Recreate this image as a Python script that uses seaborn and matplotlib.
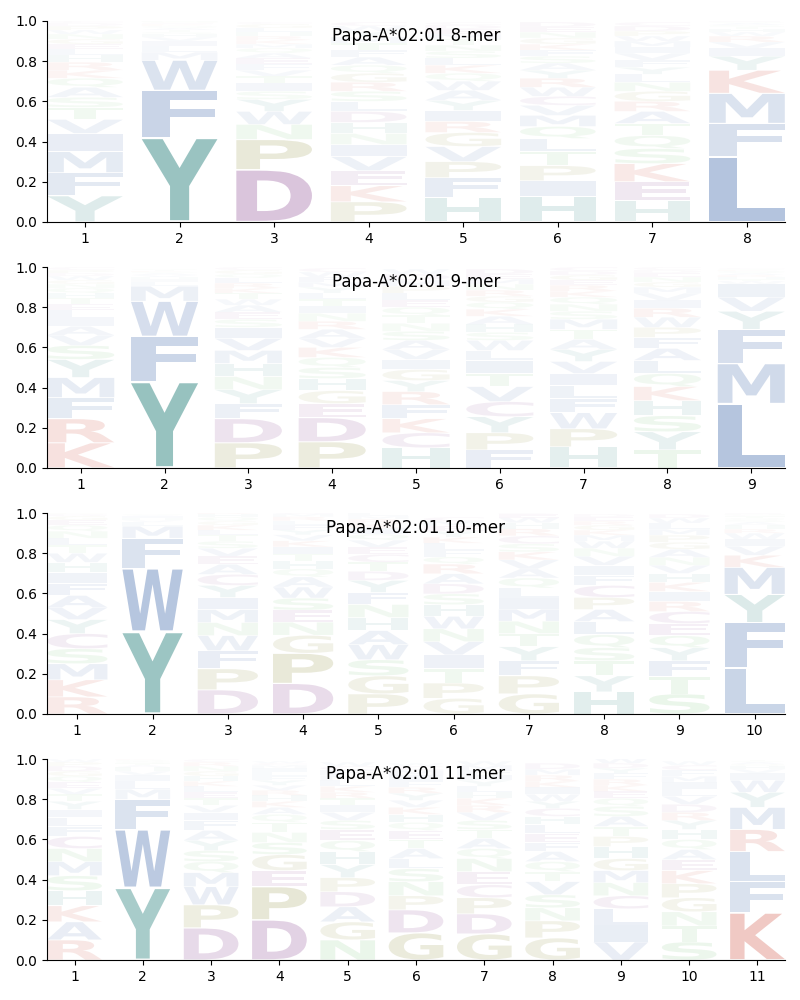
import pandas as pd
import seaborn as sns
import matplotlib.pyplot as plt
from matplotlib.textpath import TextPath
from matplotlib.patches import PathPatch
from matplotlib.font_manager import FontProperties
from matplotlib.transforms import Affine2D

allele = "Papa-A*02:01"

# letter heights per position (probability)
mer8 = [
    {"Y": .13, "F": .115, "M": .105, "I": .09, "V": .07, "T": .06, "S": .05, "A": .05, "Q": .045, "K": .04,
     "R": .04, "H": .035, "L": .03, "E": .025, "G": .025, "N": .025, "W": .02, "P": .02, "D": .015, "C": .01},
    {"Y": .42, "F": .235, "W": .15, "M": .04, "L": .03, "I": .025, "V": .02, "H": .015, "Q": .01, "A": .01,
     "T": .01, "S": .01, "K": .005, "R": .005, "E": .005, "N": .005, "G": .005, "P": .005},
    {"D": .26, "P": .15, "N": .075, "W": .065, "Y": .06, "S": .04, "I": .04, "T": .035, "F": .03, "E": .03,
     "V": .03, "A": .025, "Q": .025, "K": .02, "L": .02, "R": .02, "G": .02, "H": .02, "M": .02, "C": .01},
    {"P": .10, "K": .08, "E": .075, "V": .07, "I": .06, "D": .055, "H": .055, "N": .055, "L": .05, "S": .05,
     "G": .045, "R": .045, "A": .04, "Q": .04, "T": .035, "F": .035, "M": .03, "Y": .03, "W": .025, "C": .02},
    {"H": .12, "F": .10, "P": .08, "V": .075, "G": .07, "I": .055, "R": .055, "Y": .05, "A": .05, "W": .045,
     "K": .04, "Q": .04, "S": .035, "L": .035, "N": .03, "T": .03, "M": .025, "E": .025, "D": .02, "C": .015},
    {"H": .125, "I": .08, "P": .075, "T": .07, "L": .065, "Q": .06, "M": .055, "V": .05, "R": .045, "C": .045,
     "W": .045, "Y": .04, "S": .035, "A": .035, "G": .03, "F": .03, "N": .03, "K": .03, "E": .025, "D": .025},
    {"H": .105, "E": .095, "K": .09, "S": .075, "Q": .065, "T": .06, "A": .06, "R": .05, "G": .05, "N": .045,
     "L": .04, "F": .035, "Y": .035, "V": .035, "I": .03, "M": .03, "W": .025, "P": .025, "D": .025, "C": .02},
    {"L": .325, "F": .165, "M": .15, "K": .115, "Y": .07, "I": .04, "R": .03, "V": .03, "W": .02, "H": .015,
     "T": .01, "S": .01, "A": .01, "Q": .005, "E": .005},
]

mer9 = [
    {"K": .125, "R": .12, "F": .105, "M": .10, "Y": .09, "S": .07, "V": .05, "A": .045, "I": .04, "L": .04,
     "E": .03, "T": .03, "H": .025, "Q": .025, "N": .02, "G": .02, "W": .02, "D": .015, "P": .015, "C": .015},
    {"Y": .43, "F": .225, "W": .175, "M": .075, "L": .02, "I": .015, "V": .01, "H": .01, "A": .01, "Q": .005,
     "T": .005, "S": .005, "K": .005},
    {"P": .125, "D": .12, "F": .075, "Y": .07, "M": .065, "N": .065, "H": .065, "V": .06, "I": .055, "S": .04,
     "E": .035, "A": .035, "W": .03, "T": .03, "L": .025, "K": .025, "R": .025, "Q": .02, "G": .02, "C": .015},
    {"P": .13, "D": .12, "E": .07, "G": .065, "H": .06, "S": .055, "Q": .05, "K": .05, "A": .045, "V": .045,
     "N": .04, "R": .04, "I": .035, "T": .035, "L": .03, "Y": .03, "F": .025, "W": .025, "M": .025, "C": .02},
    {"H": .10, "C": .075, "F": .07, "K": .07, "R": .065, "G": .055, "Y": .055, "I": .05, "V": .05, "A": .045,
     "S": .045, "T": .04, "N": .04, "Q": .04, "E": .035, "L": .035, "P": .035, "D": .03, "M": .03, "W": .025},
    {"F": .09, "P": .085, "Y": .08, "V": .075, "C": .075, "T": .065, "I": .065, "L": .05, "W": .05, "S": .04,
     "H": .04, "A": .04, "Q": .035, "K": .035, "R": .03, "N": .03, "G": .03, "E": .025, "M": .025, "D": .025},
    {"H": .105, "P": .09, "W": .08, "F": .07, "L": .065, "Y": .06, "I": .06, "V": .06, "A": .05, "T": .05,
     "M": .05, "S": .04, "Q": .035, "N": .035, "R": .03, "K": .03, "G": .025, "E": .025, "D": .02, "C": .02},
    {"T": .09, "Y": .09, "S": .08, "H": .075, "K": .07, "L": .065, "Q": .065, "A": .06, "F": .055, "P": .05,
     "W": .05, "R": .045, "I": .04, "V": .035, "M": .03, "N": .025, "G": .025, "E": .02, "D": .015, "C": .015},
    {"L": .32, "M": .20, "F": .17, "Y": .09, "V": .07, "I": .065, "W": .015, "H": .01, "A": .01, "T": .01,
     "R": .01, "Q": .01, "K": .005, "S": .005, "C": .005},
]

mer10 = [
    {"R": .085, "K": .085, "M": .08, "S": .075, "C": .075, "Y": .07, "V": .06, "A": .06, "F": .06, "I": .055,
     "H": .05, "W": .045, "T": .04, "L": .035, "N": .035, "Q": .03, "E": .025, "G": .02, "D": .01, "P": .005},
    {"Y": .41, "W": .315, "F": .15, "M": .06, "L": .02, "I": .01, "H": .01, "V": .01, "A": .005, "Q": .005},
    {"D": .12, "P": .105, "F": .09, "W": .075, "M": .065, "N": .065, "Y": .06, "I": .06, "C": .055, "A": .05,
     "E": .04, "V": .04, "S": .035, "T": .03, "L": .025, "K": .025, "Q": .02, "G": .02, "H": .015, "R": .01},
    {"D": .152, "P": .15, "G": .09, "N": .065, "E": .06, "S": .06, "W": .055, "A": .05, "H": .04, "Q": .04,
     "I": .035, "T": .035, "V": .03, "K": .03, "F": .025, "Y": .025, "R": .02, "L": .02, "M": .015, "C": .01},
    {"P": .10, "G": .09, "S": .08, "W": .075, "A": .07, "H": .065, "N": .065, "Y": .06, "F": .06, "D": .045,
     "T": .045, "C": .04, "E": .035, "V": .035, "I": .03, "Q": .03, "K": .025, "R": .02, "L": .015, "M": .015},
    {"G": .078, "P": .076, "T": .072, "I": .068, "V": .066, "N": .064, "W": .062, "H": .058, "S": .054, "D": .05,
     "A": .05, "R": .048, "Q": .036, "L": .034, "F": .034, "K": .03, "Y": .03, "E": .026, "M": .024, "C": .02},
    {"G": .10, "P": .09, "F": .075, "Y": .07, "T": .065, "N": .062, "M": .06, "I": .055, "L": .05, "Q": .05,
     "A": .045, "V": .045, "K": .04, "S": .04, "C": .04, "R": .035, "H": .03, "W": .025, "E": .02, "D": .015},
    {"H": .11, "Y": .08, "T": .075, "L": .065, "S": .065, "Q": .065, "P": .06, "C": .06, "A": .06, "I": .05,
     "F": .05, "V": .045, "N": .04, "W": .035, "M": .03, "G": .025, "K": .025, "E": .02, "R": .02, "D": .015},
    {"S": .10, "T": .085, "F": .08, "Y": .065, "Q": .06, "C": .06, "E": .06, "R": .05, "I": .05, "K": .045,
     "H": .045, "A": .04, "N": .04, "V": .04, "G": .035, "P": .035, "L": .03, "M": .03, "W": .025, "D": .02},
    {"L": .23, "F": .225, "Y": .14, "M": .135, "K": .06, "V": .045, "I": .035, "W": .03, "R": .02, "H": .02,
     "A": .015, "T": .01, "S": .01, "Q": .01, "C": .005, "E": .005, "N": .005, "G": .005},
]

mer11 = [
    {"R": .10, "A": .09, "K": .08, "H": .075, "S": .075, "M": .07, "N": .065, "C": .06, "F": .05, "L": .045,
     "I": .04, "Y": .04, "T": .035, "V": .03, "E": .03, "Q": .03, "G": .025, "D": .025, "P": .02, "W": .015},
    {"Y": .36, "W": .29, "F": .15, "M": .05, "L": .04, "I": .03, "V": .02, "H": .02, "Q": .01, "T": .01,
     "A": .01, "S": .005, "K": .005},
    {"D": .16, "P": .115, "W": .09, "M": .07, "S": .055, "Q": .055, "A": .05, "F": .05, "Y": .05, "I": .04,
     "T": .035, "V": .035, "E": .03, "L": .03, "G": .025, "N": .025, "H": .025, "K": .025, "R": .02, "C": .015},
    {"D": .20, "P": .165, "E": .08, "G": .08, "S": .06, "N": .05, "T": .05, "Q": .04, "A": .035, "H": .03,
     "K": .03, "V": .025, "R": .025, "Y": .025, "I": .02, "L": .02, "F": .02, "M": .015, "W": .01, "C": .01},
    {"N": .10, "G": .09, "D": .075, "A": .075, "P": .07, "H": .065, "Y": .065, "E": .055, "Q": .055, "S": .045,
     "V": .04, "I": .035, "T": .035, "K": .03, "R": .03, "L": .03, "F": .025, "M": .025, "W": .02, "C": .02},
    {"G": .135, "D": .115, "P": .07, "N": .07, "S": .065, "A": .05, "L": .05, "E": .045, "T": .045, "Q": .04,
     "H": .04, "K": .035, "V": .035, "Y": .035, "F": .03, "I": .03, "R": .03, "M": .025, "C": .02, "W": .015},
    {"G": .13, "D": .10, "P": .08, "C": .065, "E": .065, "N": .065, "A": .05, "Q": .05, "S": .045, "T": .045,
     "V": .04, "K": .035, "R": .035, "L": .03, "H": .03, "Y": .03, "I": .025, "F": .025, "M": .025, "W": .02},
    {"G": .11, "P": .085, "N": .065, "S": .065, "V": .065, "T": .05, "Q": .05, "A": .05, "L": .045, "E": .045,
     "F": .045, "H": .04, "C": .04, "I": .035, "W": .035, "Y": .035, "K": .03, "R": .03, "D": .03, "M": .03},
    {"V": .09, "I": .085, "L": .08, "C": .065, "N": .065, "G": .06, "H": .06, "M": .06, "T": .05, "P": .05,
     "S": .05, "A": .05, "Q": .04, "E": .035, "K": .03, "R": .03, "F": .03, "D": .025, "W": .025, "Y": .025},
    {"S": .09, "T": .08, "G": .07, "P": .07, "N": .07, "K": .065, "E": .055, "A": .05, "H": .05, "Q": .05,
     "Y": .045, "V": .04, "R": .04, "D": .04, "I": .035, "L": .035, "F": .03, "M": .03, "C": .025, "W": .02},
    {"K": .235, "F": .155, "L": .15, "M": .11, "R": .11, "Y": .075, "W": .06, "I": .035, "V": .02, "H": .015,
     "A": .01, "Q": .01, "T": .005, "S": .005},
]

motifs = [("8-mer", mer8), ("9-mer", mer9), ("10-mer", mer10), ("11-mer", mer11)]

# residue colour groups
blue = sns.color_palette("deep")[0]
group_colors = {
    "hydrophobic": blue,
    "aromatic": "#42908c",
    "acidic": "#925198",
    "basic": "#cf4e3d",
    "special": "#919141",
    "polar": "#66bc66",
}
aa_group = {
    "A": "hydrophobic", "V": "hydrophobic", "I": "hydrophobic", "L": "hydrophobic",
    "M": "hydrophobic", "F": "hydrophobic", "W": "hydrophobic",
    "Y": "aromatic", "H": "aromatic",
    "D": "acidic", "E": "acidic", "C": "acidic",
    "K": "basic", "R": "basic",
    "P": "special", "G": "special",
    "N": "polar", "Q": "polar", "S": "polar", "T": "polar",
}

fp = FontProperties(family="DejaVu Sans", weight="bold")
glyphs = {}


def draw_letter(ax, c, x, bottom, height, width=0.8, vpad=0.02):
    if c not in glyphs:
        p = TextPath((0, 0), c, size=1, prop=fp)
        glyphs[c] = (p, p.get_extents())
    path, ext = glyphs[c]
    pad = height * vpad
    h = height - 2 * pad
    t = (Affine2D().translate(-ext.x0, -ext.y0)
         .scale(width / ext.width, h / ext.height)
         .translate(x - width / 2, bottom + pad))
    # fainter for rarer residues
    alpha = min(1.0, 0.01 + 1.25 * height)
    ax.add_patch(PathPatch(t.transform_path(path), facecolor=group_colors[aa_group[c]],
                           edgecolor="none", alpha=alpha))


fig, axes = plt.subplots(4, 1, figsize=(8, 10), dpi=100)
fig.subplots_adjust(left=0.059, right=0.981, top=0.979, bottom=0.04, hspace=0.225)

for ax, (name, cols) in zip(axes, motifs):
    df = pd.DataFrame(cols, index=range(1, len(cols) + 1)).fillna(0)
    for pos, row in df.iterrows():
        row = row[row > 0].sort_values(ascending=False)
        y = 0.0
        for aa, v in row.items():
            draw_letter(ax, aa, pos, y, v)
            y += v
    n = len(df)
    ax.set_xlim(0.6, n + 0.4)
    ax.set_ylim(0, 1)
    ax.set_xticks(df.index)
    ax.set_yticks([0, 0.2, 0.4, 0.6, 0.8, 1.0])
    ax.text(0.5, 0.925, f"{allele} {name}", transform=ax.transAxes,
            ha="center", va="center", fontsize=12)
    sns.despine(ax=ax)

plt.savefig("out.png", dpi=100)
